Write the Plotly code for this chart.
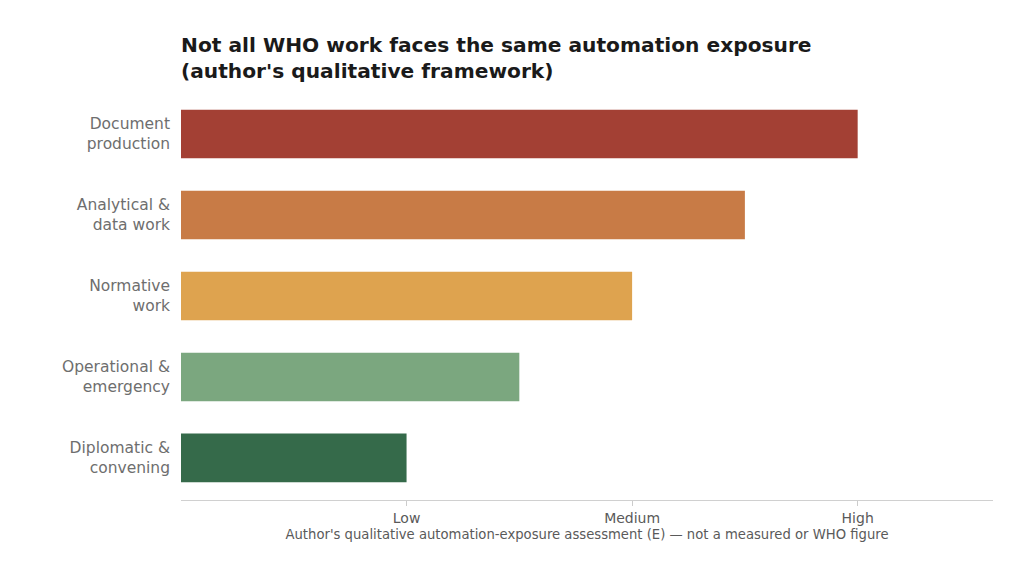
import plotly.graph_objects as go

# Categories from bottom to top
categories = ["Diplomatic &<br>convening", "Operational &<br>emergency", "Normative<br>work",
              "Analytical &<br>data work", "Document<br>production"]
exposure = [1.0, 1.5, 2.0, 2.5, 3.0]
bar_colors = ["#356a4a", "#7ba77f", "#dea34f", "#c87b46", "#a34034"]
tick_vals = [1, 2, 3]
tick_text = ["Low", "Medium", "High"]

fig = go.Figure()
fig.add_trace(go.Bar(
    y=categories,
    x=exposure,
    orientation="h",
    marker=dict(color=bar_colors, line=dict(width=0)),
    width=0.6,
    hoverinfo="skip",
))

fig.update_layout(
    width=1024,
    height=565,
    margin=dict(l=173, r=39, t=92, b=73),
    plot_bgcolor="white",
    paper_bgcolor="white",
    showlegend=False,
    font=dict(family="DejaVu Sans", color="#555555"),
    title=dict(
        text="<b>Not all WHO work faces the same automation exposure<br>(author's qualitative framework)</b>",
        x=173 / 1024, xanchor="left",
        y=0.922, yanchor="top",
        font=dict(family="DejaVu Sans", size=20.2, color="#1a1a1a"),
    ),
)

fig.update_xaxes(
    range=[0, 3.6],
    tickvals=tick_vals,
    ticktext=tick_text,
    ticks="outside",
    ticklen=5,
    tickcolor="#cccccc",
    showline=True,
    linecolor="#d0d0d0",
    linewidth=1,
    showgrid=False,
    zeroline=False,
    tickfont=dict(size=14, color="#5a5a5a"),
    title=dict(text="Author's qualitative automation-exposure assessment (E) — not a measured or WHO figure",
               font=dict(size=13.2, color="#5a5a5a"), standoff=4),
)
fig.update_yaxes(
    range=[-0.52, 4.42],
    showline=False,
    ticks="",
    showgrid=False,
    zeroline=False,
    tickfont=dict(size=15.5, color="#6e6e6e"),
    ticklabelstandoff=10,
)

fig.write_html("out.html")
